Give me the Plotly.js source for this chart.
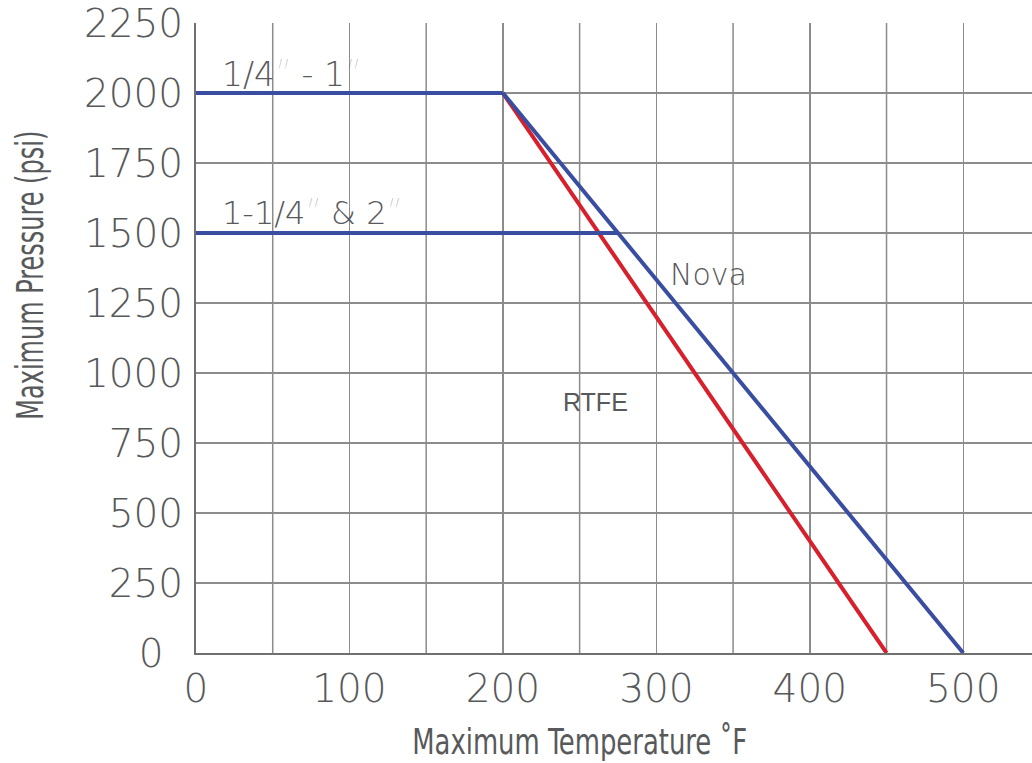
<!DOCTYPE html>
<html>
<head>
<meta charset="utf-8">
<script src="https://cdn.plot.ly/plotly-3.0.1.min.js"></script>
<style>html,body{margin:0;padding:0;background:#fff;}#chart{width:1032px;height:763px;}</style>
</head>
<body>
<div id="chart"></div>
<script>
// Data
const smallSizeX = [0, 200];
const smallSizeY = [2000, 2000];
const largeSizeX = [0, 275];
const largeSizeY = [1500, 1500];
const novaX = [200, 500];
const novaY = [2000, 0];
const rtfeX = [200, 450];
const rtfeY = [2000, 0];
const xTicks = [0, 100, 200, 300, 400, 500];
const yTicks = [0, 250, 500, 750, 1000, 1250, 1500, 1750, 2000, 2250];
const yTickText = ['0\u2002', '250', '500', '750', '1000', '1250', '1500', '1750', '2000', '2250'];
const labels = ["1/4″ - 1″", "1-1/4″ & 2″", "Nova", "RTFE"];
const xTitle = 'Maximum Temperature ˚F';
const yTitle = 'Maximum Pressure (psi)';

const blue = '#3a4ea1';
const red = '#d7202b';
const txt = '#58595b';

const traces = [
  {x: rtfeX, y: rtfeY, mode: 'lines', line: {color: red, width: 4}, hoverinfo: 'skip'},
  {x: smallSizeX, y: smallSizeY, mode: 'lines', line: {color: blue, width: 4}, hoverinfo: 'skip'},
  {x: largeSizeX, y: largeSizeY, mode: 'lines', line: {color: blue, width: 4}, hoverinfo: 'skip'},
  {x: novaX, y: novaY, mode: 'lines', line: {color: blue, width: 4}, hoverinfo: 'skip'}
];

const geo = '"DejaVu Sans", Lato, sans-serif';
const tickFont = {family: geo, size: 39, color: txt, weight: 200};
const titleFont = {family: '"Liberation Sans Narrow", "DejaVu Sans Condensed", "Liberation Sans", sans-serif', size: 37, color: txt};

const layout = {
  width: 1032, height: 763,
  margin: {l: 196, r: 0, t: 23, b: 110},
  paper_bgcolor: '#fff', plot_bgcolor: '#fff',
  showlegend: false,
  xaxis: {
    range: [0, 544.8], tickvals: xTicks, ticktext: xTicks.map(String),
    showgrid: true, gridcolor: '#8c8c8c', gridwidth: 1.5,
    zeroline: false, showline: true, linecolor: '#707070', linewidth: 2,
    ticks: '', tickfont: tickFont
  },
  yaxis: {
    range: [0, 2250], tickvals: yTicks, ticktext: yTickText,
    showgrid: true, gridcolor: '#8c8c8c', gridwidth: 1.5,
    zeroline: false, showline: true, linecolor: '#707070', linewidth: 2,
    ticks: 'outside', ticklen: 3, tickcolor: 'rgba(0,0,0,0)',
    tickfont: tickFont
  },
  shapes: [50, 150, 250, 350, 450].map(v => ({
    type: 'line', xref: 'x', yref: 'paper', x0: v, x1: v, y0: 0, y1: 1,
    line: {color: '#8c8c8c', width: 1.5}, layer: 'below'
  })),
  annotations: [
    {x: 15.6, y: 2065, text: labels[0], xanchor: 'left', yanchor: 'middle', showarrow: false,
     font: {family: geo, size: 33, color: txt, weight: 200}},
    {x: 15.6, y: 1572, text: labels[1], xanchor: 'left', yanchor: 'middle', showarrow: false,
     font: {family: geo, size: 32, color: txt, weight: 200}},
    {x: 307.5, y: 1351, text: labels[2], xanchor: 'left', yanchor: 'middle', showarrow: false,
     font: {family: geo, size: 30, color: txt, weight: 200}},
    {x: 238, y: 895, text: labels[3], xanchor: 'left', yanchor: 'middle', showarrow: false,
     font: {family: '"Liberation Sans", Arial, sans-serif', size: 25, color: txt}},
    {xref: 'paper', yref: 'paper', x: 0.459, y: -0.1755, text: xTitle, xanchor: 'center', yanchor: 'bottom',
     showarrow: false, font: {family: titleFont.family, size: 36, color: txt}},
    {xref: 'paper', yref: 'paper', x: -0.199, y: 0.6, text: yTitle, xanchor: 'center', yanchor: 'middle',
     textangle: -90, showarrow: false, font: titleFont}
  ]
};

Plotly.newPlot('chart', traces, layout, {displayModeBar: false, staticPlot: true}).then(gd => {
  const lens = {};
  lens[xTitle] = 335;
  lens[yTitle] = 289;
  gd.querySelectorAll('text.annotation-text').forEach(t => {
    const L = lens[t.textContent];
    if (L) {
      t.setAttribute('textLength', L);
      t.setAttribute('lengthAdjust', 'spacingAndGlyphs');
    }
  });
});
</script>
</body>
</html>
